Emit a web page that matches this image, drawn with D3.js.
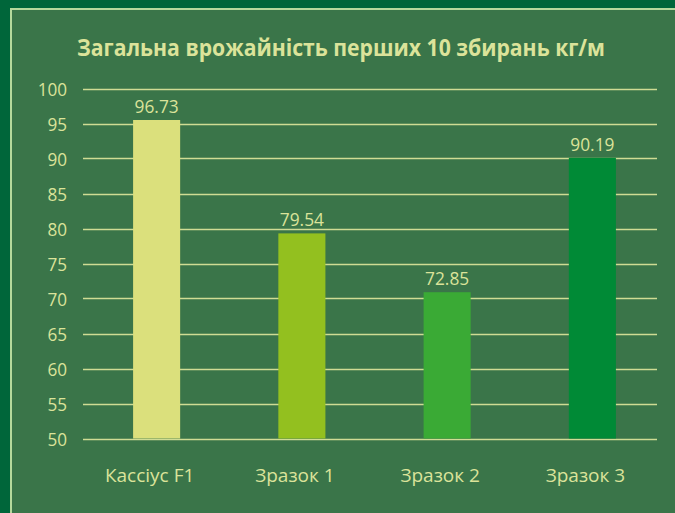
<!DOCTYPE html>
<html><head><meta charset="utf-8">
<script src="https://cdn.jsdelivr.net/npm/d3@7/dist/d3.min.js"></script>
<style>
html,body{margin:0;padding:0;background:#00663a;}
svg{display:block;}
text{font-family:"Open Sans","Noto Sans",sans-serif;}
</style></head>
<body>
<svg id="chart" width="675" height="513"></svg>
<script>
const categories = ["Кассіус F1", "Зразок 1", "Зразок 2", "Зразок 3"];
const values = [95.5, 79.3, 70.9, 90.1];           // bar heights as drawn
const valueLabels = ["96.73", "79.54", "72.85", "90.19"]; // printed data labels
const yTicks = [50, 55, 60, 65, 70, 75, 80, 85, 90, 95, 100];
const barColors = ["#dbe07c", "#93c01f", "#3aaa35", "#008a36"];
const title = "Загальна врожайність перших 10 збирань кг/м";

const svg = d3.select("#chart");
const W = 675, H = 513;
const textColor = "#dbe39a";

function condense(sel, f) {
  sel.each(function () {
    const w = this.getComputedTextLength();
    d3.select(this).attr("textLength", w * f).attr("lengthAdjust", "spacingAndGlyphs");
  });
}

svg.append("rect").attr("width", W).attr("height", H).attr("fill", "#00663a");
svg.append("rect").attr("x", 10).attr("y", 8).attr("width", W - 10).attr("height", H - 8).attr("fill", "#b5d99c");
svg.append("rect").attr("x", 12).attr("y", 10).attr("width", W - 12).attr("height", H - 10).attr("fill", "#3a7549");

const y = d3.scaleLinear().domain([50, 100]).range([438.5, 88.5]);
const x = d3.scaleBand().domain(categories).range([84, 665]).paddingInner(0.676).paddingOuter(0.338);

// gridlines
svg.append("g").selectAll("line").data(yTicks).join("line")
  .attr("x1", 83).attr("x2", 657)
  .attr("y1", d => Math.round(y(d)) + 0.5).attr("y2", d => Math.round(y(d)) + 0.5)
  .attr("stroke", "#cfdc94").attr("stroke-width", 1.3);

// y axis labels
const yAxis = d3.axisLeft(y).tickValues(yTicks).tickSize(0).tickPadding(0);
const gy = svg.append("g").attr("transform", "translate(67,0)").call(yAxis);
gy.select(".domain").remove();
gy.selectAll("text").attr("fill", textColor).attr("font-size", 19).attr("dy", "0.36em")
  .attr("font-family", "'Open Sans', sans-serif");
condense(gy.selectAll("text"), 0.9);

// bars
svg.append("g").selectAll("rect").data(values).join("rect")
  .attr("x", (d, i) => x(categories[i]))
  .attr("width", x.bandwidth())
  .attr("y", d => y(d))
  .attr("height", d => y(50) - y(d))
  .attr("fill", (d, i) => barColors[i]);

// data labels
const dl = svg.append("g").selectAll("text").data(values).join("text")
  .attr("x", (d, i) => x(categories[i]) + x.bandwidth() / 2)
  .attr("y", d => y(d) - 7)
  .attr("text-anchor", "middle")
  .attr("fill", textColor).attr("font-size", 19)
  .text((d, i) => valueLabels[i]);
condense(dl, 0.91);

// x axis labels
const xAxis = d3.axisBottom(x).tickSize(0).tickPadding(0);
const gx = svg.append("g").attr("transform", "translate(-7,482)").call(xAxis);
gx.select(".domain").remove();
gx.selectAll("text").attr("fill", textColor).attr("font-size", 19).attr("dy", 0)
  .attr("font-family", "'Open Sans', sans-serif");
condense(gx.selectAll("text"), 1.0);

// title
svg.append("text").attr("x", 341).attr("y", 56).attr("text-anchor", "middle")
  .attr("fill", textColor).attr("font-size", 23).attr("font-weight", "bold")
  .attr("textLength", 528).attr("lengthAdjust", "spacingAndGlyphs")
  .text(title);
</script>
</body></html>
